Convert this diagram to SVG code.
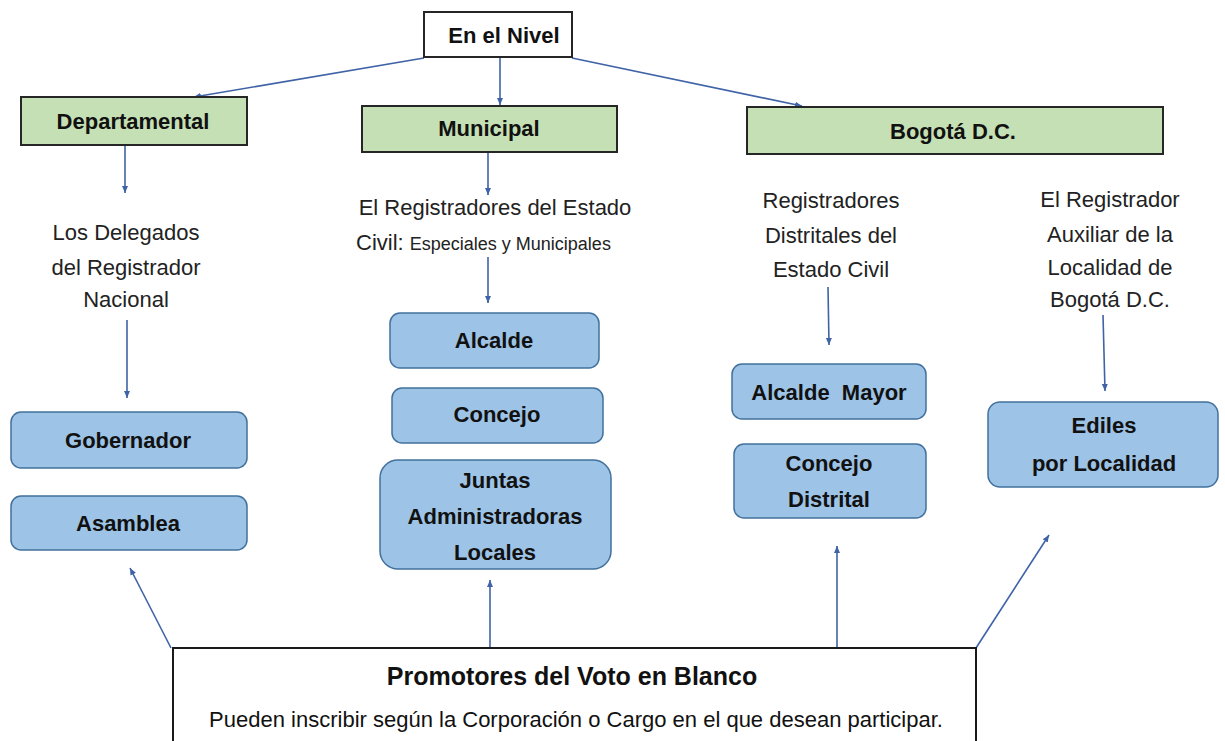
<svg xmlns="http://www.w3.org/2000/svg" width="1225" height="741" viewBox="0 0 1225 741">
<defs>
<marker id="ah" markerWidth="8" markerHeight="8" refX="7" refY="4" orient="auto" markerUnits="userSpaceOnUse">
<path d="M0,1 L7,4 L0,7 Z" fill="#3f63a6"/>
</marker>
<style>
.lvl{fill:#c5e0b4;stroke:#262626;stroke-width:2}
.top{fill:#ffffff;stroke:#262626;stroke-width:2}
.blue{fill:#9dc3e6;stroke:#41719c;stroke-width:1.5}
.bt{font-family:"Liberation Sans",Arial,sans-serif;font-weight:bold;font-size:22px;fill:#111;text-anchor:middle}
.rt{font-family:"Liberation Sans",Arial,sans-serif;font-size:22px;fill:#222;text-anchor:middle}
.con{stroke:#3f63a6;stroke-width:1.6;fill:none;marker-end:url(#ah)}
</style>
</defs>
<rect width="1225" height="741" fill="#ffffff"/>

<g id="connectors">
<line class="con" x1="424" y1="58" x2="194" y2="97"/>
<line class="con" x1="500" y1="58" x2="500" y2="105"/>
<line class="con" x1="572" y1="58" x2="802" y2="106"/>
<line class="con" x1="125" y1="146" x2="125" y2="193"/>
<line class="con" x1="488" y1="153" x2="488" y2="195"/>
<line class="con" x1="127" y1="320" x2="127" y2="398"/>
<line class="con" x1="488" y1="257" x2="488" y2="303"/>
<line class="con" x1="828" y1="287" x2="829" y2="345"/>
<line class="con" x1="1103" y1="315" x2="1105" y2="391"/>
<line class="con" x1="171" y1="648" x2="130" y2="568"/>
<line class="con" x1="490" y1="648" x2="490" y2="580"/>
<line class="con" x1="837" y1="648" x2="837" y2="546"/>
<line class="con" x1="976" y1="648" x2="1049" y2="535"/>
</g>

<g id="nivel">
<rect class="top" x="424" y="12" width="148" height="45"/>
<text class="bt" x="504" y="43">En el Nivel</text>
</g>
<g id="departamental">
<rect class="lvl" x="21" y="97" width="226" height="48"/>
<text class="bt" x="133" y="129">Departamental</text>
</g>
<g id="municipal">
<rect class="lvl" x="362" y="106" width="255" height="46"/>
<text class="bt" x="489" y="136">Municipal</text>
</g>
<g id="bogota">
<rect class="lvl" x="747" y="107" width="416" height="47"/>
<text class="bt" x="953" y="139">Bogotá D.C.</text>
</g>

<g id="delegados">
<text class="rt" x="126" y="240">Los Delegados</text>
<text class="rt" x="126" y="275">del Registrador</text>
<text class="rt" x="126" y="307">Nacional</text>
</g>
<g id="registradores-municipal">
<text class="rt" x="495" y="215">El Registradores del Estado</text>
<text x="356" y="250" font-family="Liberation Sans, Arial, sans-serif" fill="#222"><tspan font-size="22">Civil: </tspan><tspan font-size="18">Especiales y Municipales</tspan></text>
</g>
<g id="registradores-distritales">
<text class="rt" x="831" y="208">Registradores</text>
<text class="rt" x="831" y="243">Distritales del</text>
<text class="rt" x="831" y="277">Estado Civil</text>
</g>
<g id="registrador-auxiliar">
<text class="rt" x="1110" y="207">El Registrador</text>
<text class="rt" x="1110" y="242">Auxiliar de la</text>
<text class="rt" x="1110" y="275">Localidad de</text>
<text class="rt" x="1110" y="307">Bogotá D.C.</text>
</g>

<g id="gobernador">
<rect class="blue" x="11" y="412" width="236" height="56" rx="10"/>
<text class="bt" x="128" y="448">Gobernador</text>
</g>
<g id="asamblea">
<rect class="blue" x="11" y="496" width="236" height="54" rx="10"/>
<text class="bt" x="128" y="531">Asamblea</text>
</g>
<g id="alcalde">
<rect class="blue" x="390" y="313" width="209" height="55" rx="10"/>
<text class="bt" x="494" y="348">Alcalde</text>
</g>
<g id="concejo">
<rect class="blue" x="392" y="388" width="211" height="55" rx="10"/>
<text class="bt" x="497" y="422">Concejo</text>
</g>
<g id="juntas">
<rect class="blue" x="380" y="460" width="231" height="109" rx="18"/>
<text class="bt" x="495" y="488">Juntas</text>
<text class="bt" x="495" y="524">Administradoras</text>
<text class="bt" x="495" y="560">Locales</text>
</g>
<g id="alcalde-mayor">
<rect class="blue" x="732" y="364" width="194" height="55" rx="10"/>
<text class="bt" x="829" y="400">Alcalde&#160; Mayor</text>
</g>
<g id="concejo-distrital">
<rect class="blue" x="734" y="444" width="192" height="74" rx="10"/>
<text class="bt" x="829" y="471">Concejo</text>
<text class="bt" x="829" y="507">Distrital</text>
</g>
<g id="ediles">
<rect class="blue" x="988" y="402" width="230" height="85" rx="12"/>
<text class="bt" x="1104" y="433">Ediles</text>
<text class="bt" x="1104" y="471">por Localidad</text>
</g>

<g id="promotores">
<rect x="173" y="648" width="803" height="100" fill="#ffffff" stroke="#1a1a1a" stroke-width="2"/>
<text x="572" y="685" font-family="Liberation Sans, Arial, sans-serif" font-weight="bold" font-size="25" fill="#111" text-anchor="middle">Promotores del Voto en Blanco</text>
<text x="576" y="727" font-family="Liberation Sans, Arial, sans-serif" font-size="22" fill="#111" text-anchor="middle">Pueden inscribir según la Corporación o Cargo en el que desean participar.</text>
</g>
</svg>
